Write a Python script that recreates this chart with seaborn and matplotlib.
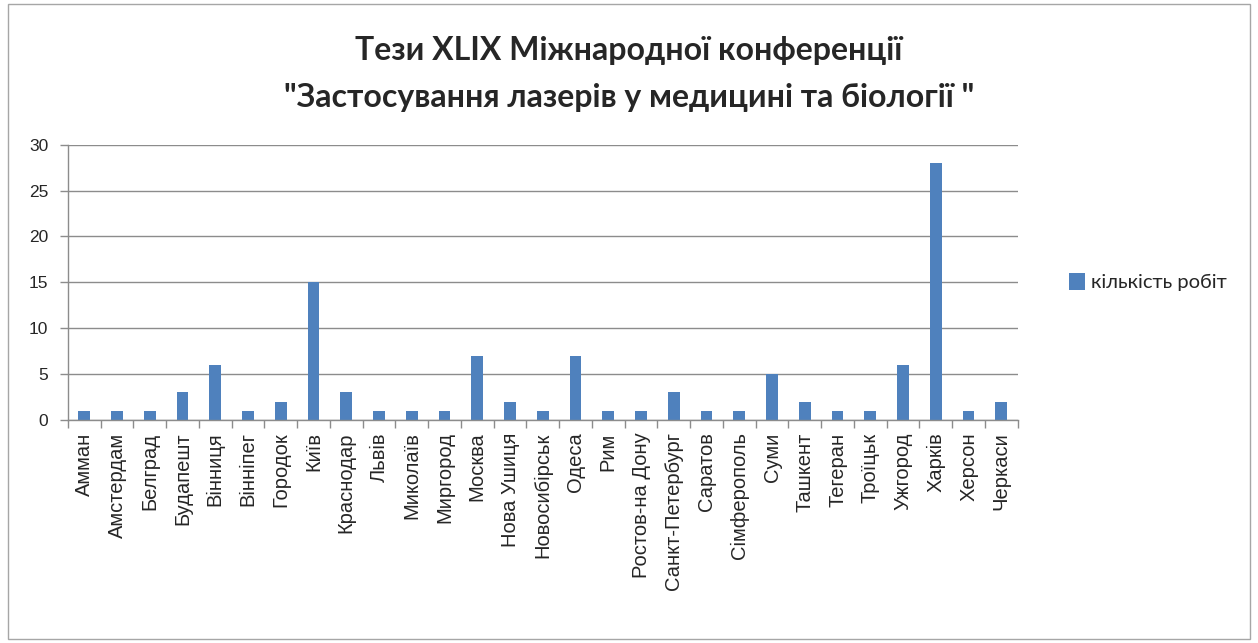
import numpy as np
import pandas as pd
import matplotlib
matplotlib.use("Agg")
import matplotlib.pyplot as plt
import matplotlib.patches as mpatches
import seaborn as sns

# data
cities = ['Амман', 'Амстердам', 'Белград', 'Будапешт', 'Вінниця', 'Вінніпег',
          'Городок', 'Київ', 'Краснодар', 'Львів', 'Миколаїв', 'Миргород',
          'Москва', 'Нова Ушиця', 'Новосибірськ', 'Одеса', 'Рим',
          'Ростов-на Дону', 'Санкт-Петербург', 'Саратов', 'Сімферополь',
          'Суми', 'Ташкент', 'Тегеран', 'Троїцьк', 'Ужгород', 'Харків',
          'Херсон', 'Черкаси']
works = [1, 1, 1, 3, 6, 1, 2, 15, 3, 1, 1, 1, 7, 2, 1, 7, 1, 1, 3, 1, 1,
         5, 2, 1, 1, 6, 28, 1, 2]
series_name = 'кількість робіт'
y_ticks = [0, 5, 10, 15, 20, 25, 30]

sns.set_style("white")
plt.rcParams['font.family'] = ['Liberation Sans', 'DejaVu Sans']

df = pd.DataFrame({'city': cities, 'n': works})

fig = plt.figure(figsize=(12.58, 6.43), dpi=100)
ax = fig.add_axes([0.054, 0.347, 0.755, 0.428])

sns.barplot(data=df, x='city', y='n', color='#4F81BD', width=0.36,
            saturation=1, linewidth=0, label=series_name, ax=ax)

ax.set_ylim(0, 30)
ax.set_yticks(y_ticks)
ax.set_xlim(-0.5, len(cities) - 0.5)
ax.set_xlabel('')
ax.set_ylabel('')
ax.yaxis.grid(True, color='#8c8c8c', linewidth=1)
ax.set_axisbelow(True)

for s in ['top', 'right']:
    ax.spines[s].set_visible(False)
for s in ['left', 'bottom']:
    ax.spines[s].set_color('#8c8c8c')
    ax.spines[s].set_linewidth(1)

# excel style: tick marks between categories
ax.set_xticks(range(len(cities)))
ax.set_xticklabels(cities, rotation=90, fontsize=14.5)
ax.tick_params(axis='x', which='major', length=0, pad=9)
ax.set_xticks(np.arange(-0.5, len(cities), 1), minor=True)
ax.tick_params(axis='x', which='minor', length=6, color='#8c8c8c', width=1,
               direction='out', bottom=True)
ax.tick_params(axis='y', length=6, color='#8c8c8c', width=1, direction='out',
               left=True, labelsize=12.5, pad=8)

leg = ax.legend(loc='center left', bbox_to_anchor=(1.035, 0.5), frameon=False,
                handlelength=0.8, handleheight=0.9, handletextpad=0.3,
                prop={'family': 'Lato', 'size': 14.5})

fig.text(0.5, 0.922, 'Тези XLIX Міжнародної конференції',
         ha='center', va='center', fontsize=23, fontweight='bold', family='Lato')
fig.text(0.5, 0.848, '"Застосування лазерів у медицині та біології "',
         ha='center', va='center', fontsize=23, fontweight='bold', family='Lato')

# light frame around the chart area
fig.add_artist(mpatches.Rectangle((0.006, 0.006), 0.988, 0.988,
                                  transform=fig.transFigure, fill=False,
                                  edgecolor='#a6a6a6', linewidth=1))

fig.savefig('out.png', dpi=100)
